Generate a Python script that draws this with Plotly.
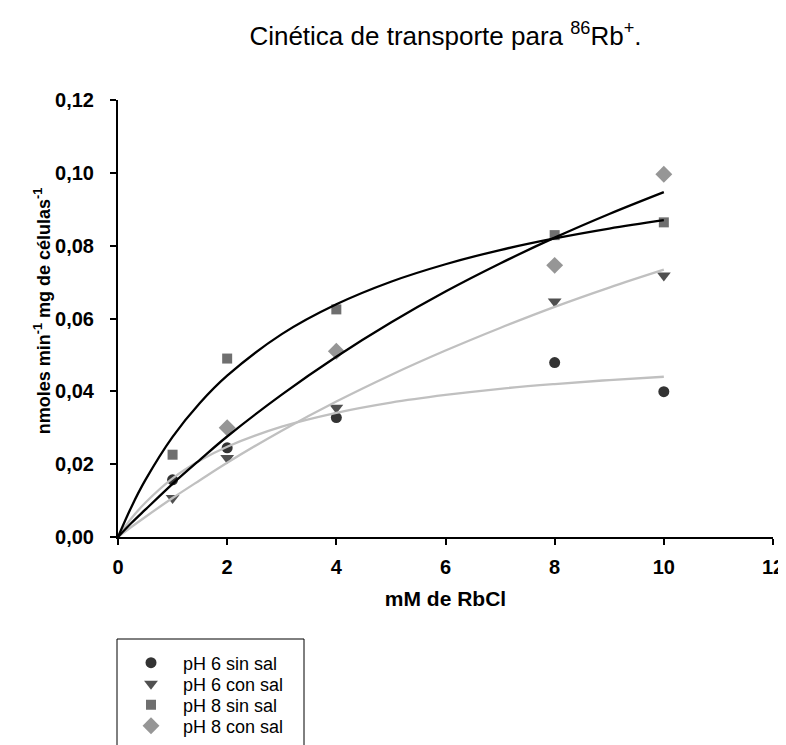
import plotly.graph_objects as go

# Measured data (mM RbCl vs uptake)
conc = [1, 2, 4, 8, 10]
ph6_sin_sal = [0.0157, 0.0245, 0.0328, 0.0479, 0.0399]
ph6_con_sal = [0.0107, 0.0217, 0.0355, 0.0647, 0.0718]
ph8_sin_sal = [0.0226, 0.0490, 0.0625, 0.0829, 0.0864]
ph8_con_sal = [None, 0.0300, 0.0510, 0.0746, 0.0996]

# Fitted curves, values
curve_x = [0, 0.25, 0.5, 1, 1.5, 2, 3, 4, 5, 6, 7, 8, 9, 10]
fit_ph8_sin_sal = [0, 0.0084, 0.0156, 0.0275, 0.0368, 0.0443, 0.0557, 0.0639, 0.0701, 0.0749, 0.0788, 0.0820, 0.0847, 0.0870]
fit_ph8_con_sal = [0, 0.0039, 0.0075, 0.0146, 0.0212, 0.0276, 0.0391, 0.0495, 0.0589, 0.0674, 0.0751, 0.0822, 0.0887, 0.0947]
fit_ph6_sin_sal = [0, 0.0052, 0.0094, 0.0161, 0.0210, 0.0248, 0.0303, 0.0341, 0.0369, 0.0390, 0.0407, 0.0420, 0.0431, 0.0440]
fit_ph6_con_sal = [0, 0.0028, 0.0055, 0.0107, 0.0156, 0.0204, 0.0292, 0.0372, 0.0445, 0.0512, 0.0574, 0.0632, 0.0685, 0.0734]

x_ticks = [0, 2, 4, 6, 8, 10, 12]
y_ticks = [0, 0.02, 0.04, 0.06, 0.08, 0.10, 0.12]

FONT = "Liberation Sans, Arial, sans-serif"
OFF = 8                      # page body margin
W, H = 786 - OFF, 745 - OFF  # figure size
# plot area in page pixels
PL, PR, PT, PB = 118, 773, 100, 537
PW, PH = PR - PL, PB - PT

def px_x(p):
    return (p - PL) / PW

def px_y(p):
    return (PB - p) / PH

fig = go.Figure()

series = [
    ("pH 6 sin sal", ph6_sin_sal, "circle", 11, "#333333", "legend", 663),
    ("pH 6 con sal", ph6_con_sal, "triangle-down", 12, "#505050", "legend2", 684),
    ("pH 8 sin sal", ph8_sin_sal, "square", 10, "#6f6f6f", "legend3", 705),
    ("pH 8 con sal", ph8_con_sal, "diamond", 13, "#969696", "legend4", 726),
]
for name, yv, sym, sz, col, lg, _ in series:
    fig.add_trace(go.Scatter(x=conc, y=yv, mode="markers", name=name, legend=lg,
                             marker=dict(symbol=sym, size=sz, color=col)))

for yv, col in [(fit_ph6_sin_sal, "#c0c0c0"), (fit_ph6_con_sal, "#c0c0c0"),
                (fit_ph8_sin_sal, "#000000"), (fit_ph8_con_sal, "#000000")]:
    fig.add_trace(go.Scatter(x=curve_x, y=yv, mode="lines", showlegend=False,
                             line=dict(color=col, width=2.3, shape="spline"),
                             hoverinfo="skip"))

legend_layout = {}
for name, yv, sym, sz, col, lg, ypix in series:
    legend_layout[lg] = dict(x=px_x(119), y=px_y(ypix), xanchor="left", yanchor="middle",
                             bgcolor="rgba(0,0,0,0)", borderwidth=0,
                             font=dict(size=18, color="black", family=FONT),
                             itemwidth=54)

fig.update_layout(
    width=W, height=H,
    margin=dict(l=PL - OFF, r=W - (PR - OFF), t=PT - OFF, b=H - (PB - OFF), autoexpand=False),
    paper_bgcolor="white", plot_bgcolor="white",
    separators=",.",
    font=dict(family=FONT, color="black"),
    title=dict(text="Cinética de transporte para <sup>86</sup>Rb<sup>+</sup>.",
               x=0.5, xref="paper", y=1 - 28 / H, yanchor="middle",
               font=dict(size=26, color="black", family=FONT)),
    xaxis=dict(range=[0, 12], tickvals=x_ticks, showline=True, linecolor="black", linewidth=2,
               ticks="outside", ticklen=6, tickwidth=2, tickcolor="black", showgrid=False,
               zeroline=False, ticklabelstandoff=5,
               tickfont=dict(size=20, family=FONT, color="black", weight="bold"),
               title=dict(text="<b>mM de RbCl</b>", font=dict(size=21, family=FONT), standoff=14)),
    yaxis=dict(range=[0, 0.12], tickvals=y_ticks, tickformat=".2f", showline=True, linecolor="black",
               linewidth=2, ticks="outside", ticklen=6, tickwidth=2, tickcolor="black", showgrid=False,
               zeroline=False, ticklabelstandoff=12,
               tickfont=dict(size=20, family=FONT, color="black", weight="bold"),
               title=dict(text="<b>\u00a0\u00a0\u00a0nmoles min<sup>-1</sup> mg de células<sup>-1</sup></b>",
                          font=dict(size=18, family=FONT), standoff=0)),
    shapes=[dict(type="rect", xref="paper", yref="paper",
                 x0=px_x(117), x1=px_x(304), y0=px_y(639), y1=px_y(790),
                 line=dict(color="black", width=1), fillcolor="rgba(0,0,0,0)")],
    **legend_layout,
)

fig.write_html("out.html")
